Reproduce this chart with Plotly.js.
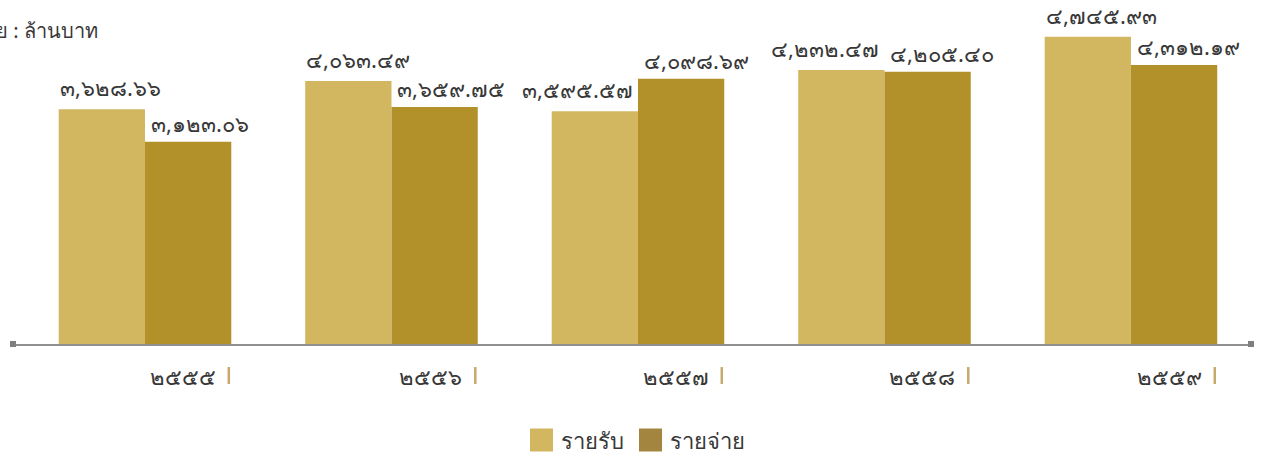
<!DOCTYPE html>
<html>
<head>
<meta charset="utf-8">
<script src="https://cdn.plot.ly/plotly-3.0.1.min.js"></script>
<style>html,body{margin:0;padding:0;background:#fff;}#chart{width:1261px;height:455px;}</style>
</head>
<body>
<div id="chart"></div>
<script>
// ---- data ----
const years = ['๒๕๕๕', '๒๕๕๖', '๒๕๕๗', '๒๕๕๘', '๒๕๕๙'];
const income = [3628.66, 4063.49, 3595.57, 4232.47, 4745.93];   // รายรับ
const expense = [3123.06, 3659.75, 4098.69, 4205.40, 4312.19];  // รายจ่าย
const seriesNames = ['รายรับ', 'รายจ่าย'];
const unitTitle = 'หน่วย : ล้านบาท';

// ---- style ----
const colIncome = '#d3b760';
const colExpense = '#b2912b';
const legendColors = ['#d3b760', '#a3853f'];
const textColor = '#383838';
const FONT = 'Noto Sans, DejaVu Sans, sans-serif';
const BW = 0.35;

const thaiDigits = '๐๑๒๓๔๕๖๗๘๙';
function toThai(v) {
  const s = v.toLocaleString('en-US', {minimumFractionDigits: 2, maximumFractionDigits: 2});
  return s.replace(/[0-9]/g, d => thaiDigits[+d]);
}

const idx = years.map((_, i) => i);

const traces = [
  {type: 'bar', x: idx, y: income, name: seriesNames[0], width: BW, offset: -BW,
   marker: {color: colIncome}, showlegend: false, hoverinfo: 'skip'},
  {type: 'bar', x: idx, y: expense, name: seriesNames[1], width: BW, offset: 0,
   marker: {color: colExpense}, showlegend: false, hoverinfo: 'skip'}
];

const annotations = [];
const shapes = [];
idx.forEach(i => {
  // income label
  const collide = expense[i] > income[i] - 100;
  annotations.push({
    x: collide ? i : i - BW, y: income[i], xref: 'x', yref: 'y',
    text: toThai(income[i]), showarrow: false,
    xanchor: collide ? 'right' : 'left', yanchor: 'bottom', yshift: 5, xshift: collide ? -3 : -1,
    font: {family: FONT, size: 22, color: textColor}
  });
  // expense label
  annotations.push({
    x: i, y: expense[i], xref: 'x', yref: 'y',
    text: toThai(expense[i]), showarrow: false,
    xanchor: 'left', yanchor: 'bottom', yshift: 2, xshift: 4,
    font: {family: FONT, size: 22, color: textColor}
  });
  // year label
  annotations.push({
    x: i + 0.296, y: -0.1, xref: 'x', yref: 'paper',
    text: years[i], showarrow: false, xanchor: 'right', yanchor: 'middle',
    font: {family: FONT, size: 22, color: textColor}
  });
  shapes.push({type: 'line', xref: 'x', yref: 'paper', x0: i + 0.34, x1: i + 0.34,
    y0: -0.072, y1: -0.125, line: {color: '#c6a96b', width: 2.5}});
});

// axis end squares
[0, 1].forEach(px => {
  shapes.push({type: 'rect', xref: 'paper', yref: 'paper', xsizemode: 'pixel', ysizemode: 'pixel',
    xanchor: px, yanchor: 0, x0: -3, x1: 3, y0: -3, y1: 3,
    fillcolor: '#7f7f7f', line: {width: 0}});
});

// unit title
annotations.push({
  x: 0, y: 1, xref: 'paper', yref: 'paper', xshift: 87, yshift: -6,
  text: unitTitle, showarrow: false, xanchor: 'right', yanchor: 'middle',
  font: {family: FONT, size: 20, color: textColor}
});

// custom legend
const legX = [530, 639];   // pixel left of swatches
seriesNames.forEach((n, k) => {
  const x0 = (legX[k] - 13) / 1238;
  shapes.push({type: 'rect', xref: 'paper', yref: 'paper', xsizemode: 'pixel', ysizemode: 'pixel',
    xanchor: x0, yanchor: -0.3, x0: 0, x1: 23, y0: -11.5, y1: 11.5,
    fillcolor: legendColors[k], line: {width: 0}});
  annotations.push({x: x0, y: -0.3, xref: 'paper', yref: 'paper', xshift: 29,
    text: n, showarrow: false, xanchor: 'left', yanchor: 'middle',
    font: {family: FONT, size: 22, color: textColor}});
});

const layout = {
  width: 1261, height: 455,
  margin: {l: 13, r: 10, t: 24, b: 111},
  paper_bgcolor: '#ffffff', plot_bgcolor: '#ffffff',
  showlegend: false,
  xaxis: {type: 'linear', range: [-0.5355, 4.487], showgrid: false, zeroline: false,
    showticklabels: false, ticks: '', showline: true, linecolor: '#8f8f8f', linewidth: 2, fixedrange: true},
  yaxis: {range: [0, 4944], showgrid: false, zeroline: false, showticklabels: false,
    ticks: '', showline: false, fixedrange: true},
  annotations: annotations,
  shapes: shapes
};

Plotly.newPlot('chart', traces, layout, {displayModeBar: false, staticPlot: true});
</script>
</body>
</html>
